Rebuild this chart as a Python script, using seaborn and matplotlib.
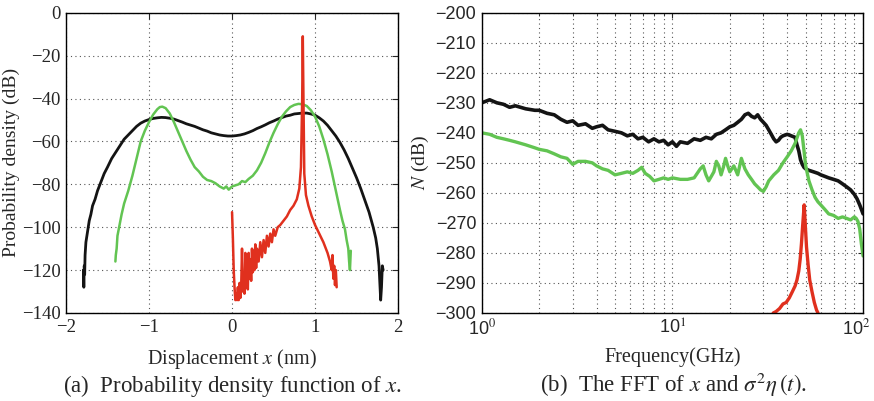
import numpy as np
import pandas as pd
import matplotlib
matplotlib.use('Agg')
import matplotlib.pyplot as plt
import matplotlib.transforms as mtransforms
import seaborn as sns
from matplotlib.ticker import FixedLocator, NullFormatter

# ---- left panel: probability density (dB) vs displacement (nm)
black_x = [-1.79, -1.785, -1.78, -1.775, -1.77, -1.76, -1.74, -1.72, -1.70, -1.68, -1.65, -1.62, -1.58,
           -1.54, -1.50, -1.45, -1.40, -1.35, -1.30, -1.25, -1.20, -1.15, -1.10, -1.05, -1.00, -0.95,
           -0.90, -0.85, -0.80, -0.75, -0.70, -0.65, -0.60, -0.55, -0.50, -0.45, -0.40, -0.35, -0.30,
           -0.25, -0.20, -0.15, -0.10, -0.05, 0.00, 0.05, 0.10, 0.15, 0.20, 0.25, 0.30, 0.35, 0.40,
           0.45, 0.50, 0.55, 0.60, 0.65, 0.70, 0.75, 0.80, 0.85, 0.90, 0.95, 1.00, 1.05, 1.10, 1.15,
           1.20, 1.25, 1.30, 1.35, 1.40, 1.45, 1.50, 1.55, 1.60, 1.65, 1.70, 1.73, 1.75, 1.77, 1.78,
           1.79, 1.80, 1.81, 1.82]
black_y = [-120, -128, -118, -122, -113, -107, -102, -97, -94, -90, -87, -83, -79, -75, -72, -68, -65,
           -62, -59, -57, -55, -53, -51.5, -50.5, -49.8, -49.3, -49, -48.8, -48.9, -49.2, -49.6, -50.3,
           -51, -51.8, -52.4, -53, -53.8, -54.6, -55.2, -56, -56.5, -57, -57.3, -57.5, -57.5, -57.3,
           -57, -56.5, -55.8, -55, -54, -53.2, -52.3, -51.3, -50.5, -49.6, -48.9, -48.2, -47.8, -47.2,
           -47, -46.8, -46.8, -47.2, -47.8, -49, -50.5, -52.5, -55, -57.5, -60.5, -64, -68, -72.5,
           -77, -82, -87.5, -93, -100, -105, -110, -118, -126, -134, -128, -118, -120]

green_x = [-1.405, -1.40, -1.39, -1.38, -1.36, -1.33, -1.30, -1.25, -1.20, -1.15, -1.10, -1.05, -1.00,
           -0.95, -0.90, -0.87, -0.84, -0.80, -0.75, -0.70, -0.65, -0.60, -0.55, -0.50, -0.45, -0.40,
           -0.35, -0.30, -0.25, -0.20, -0.15, -0.10, -0.07, -0.04, 0.00, 0.04, 0.08, 0.12, 0.16, 0.20,
           0.25, 0.30, 0.35, 0.40, 0.45, 0.50, 0.55, 0.60, 0.65, 0.70, 0.75, 0.80, 0.85, 0.90, 0.95,
           1.00, 1.05, 1.10, 1.15, 1.20, 1.25, 1.30, 1.33, 1.36, 1.38, 1.40, 1.41, 1.42, 1.43]
green_y = [-116, -113, -110, -104, -100, -94, -89, -83, -76, -68, -60, -55, -51, -47.5, -45, -44, -43.8,
           -44.5, -47, -51, -55.5, -60, -64.5, -68.5, -72, -74, -76.5, -78, -78.5, -79.5, -81, -82, -81,
           -82.5, -81, -80.5, -80, -78.5, -79, -77.5, -76, -73.5, -70, -65.5, -60.5, -56, -52, -48.5,
           -46, -44, -43, -42.5, -42.7, -43.5, -45.5, -48.5, -53, -59, -66, -74, -83, -92, -97, -101,
           -106, -110, -116, -120, -111]

red_x = [0.00, 0.01, 0.02, 0.03, 0.04, 0.05, 0.06, 0.07, 0.08, 0.09, 0.10, 0.11, 0.12, 0.13, 0.14,
         0.15, 0.16, 0.17, 0.18, 0.19, 0.20, 0.21, 0.22, 0.23, 0.24, 0.25, 0.26, 0.27, 0.28, 0.29,
         0.30, 0.32, 0.34, 0.36, 0.38, 0.40, 0.42, 0.44, 0.46, 0.48, 0.50, 0.52, 0.55, 0.58, 0.62,
         0.66, 0.70, 0.74, 0.78, 0.81, 0.83, 0.845, 0.852, 0.86, 0.87, 0.89, 0.92, 0.96, 1.00, 1.05,
         1.10, 1.15, 1.18, 1.20, 1.21, 1.22, 1.23, 1.24, 1.25, 1.26]
red_y = [-93, -105, -120, -128, -134, -131, -134, -128, -134, -126, -133, -128, -110, -130, -122, -131,
         -112, -128, -118, -129, -112, -124, -115, -125, -110, -121, -111, -120, -108, -119, -110, -116,
         -107, -114, -106, -112, -104, -109, -103, -107, -101, -104, -100, -99, -97, -95, -92, -90, -87,
         -82, -72, -40, -11, -40, -75, -85, -90, -95, -99, -103, -107, -112, -116, -120, -113, -124, -118,
         -127, -120, -128]

# ---- right panel: FFT (dB) vs frequency (GHz)
fb_x = [1.0, 1.05, 1.1, 1.2, 1.3, 1.4, 1.5, 1.7, 1.9, 2.0, 2.2, 2.4, 2.6, 2.8, 3.0, 3.2, 3.5, 3.8, 4.0,
        4.3, 4.6, 5.0, 5.4, 5.8, 6.2, 6.6, 7.0, 7.5, 8.0, 8.5, 9.0, 9.5, 10, 10.5, 11, 12, 13, 14, 15,
        16, 17, 18, 19, 20, 21, 22, 23, 24, 25, 26, 27, 28, 29, 30, 31, 32, 33, 34, 35, 36, 37, 38, 40,
        42, 44, 45, 46, 47, 48, 49, 50, 52, 55, 58, 60, 63, 66, 70, 74, 78, 82, 86, 90, 93, 96, 98, 100]
fb_y = [-230, -229.5, -229, -230, -230.5, -231.5, -231, -232, -232.5, -232.5, -233.5, -234, -235.5,
        -236.5, -236, -237.5, -237, -238.5, -238, -237.5, -239, -239.5, -240, -241, -240.5, -242,
        -241.5, -243, -242, -243, -242.5, -244, -243, -244.5, -243, -243.5, -242, -242.5, -241.5,
        -242, -240.5, -240, -239, -238, -237.5, -236.5, -235.5, -234, -233.5, -234.5, -235, -234,
        -235.5, -236.5, -237.5, -239, -240.5, -242, -243, -242.5, -241.5, -241, -240.5, -241, -241.5,
        -244, -246, -249, -250.5, -251.5, -252, -252.5, -253, -253.5, -254, -254.5, -255, -255.5,
        -256, -257, -258, -259, -260.5, -262, -264, -265.5, -267]

fg_x = [1.0, 1.1, 1.2, 1.3, 1.4, 1.5, 1.7, 1.9, 2.0, 2.2, 2.4, 2.6, 2.8, 3.0, 3.2, 3.5, 3.8, 4.0, 4.3,
        4.6, 5.0, 5.4, 5.8, 6.2, 6.6, 6.9, 7.2, 7.6, 8.0, 8.5, 9.0, 9.5, 10, 11, 12, 13, 14, 14.5, 15,
        15.5, 16, 16.5, 17, 17.5, 18, 18.5, 19, 19.5, 20, 21, 22, 23, 24, 25, 26, 27, 28, 29, 30, 31,
        32, 34, 36, 38, 40, 42, 44, 46, 47, 48, 49, 50, 52, 54, 56, 58, 60, 63, 66, 70, 74, 78, 82, 86,
        90, 92, 94, 96, 98, 100]
fg_y = [-240, -240.5, -241.5, -242, -242.5, -243, -244, -245, -245.5, -246, -247, -248, -248.5,
        -250.5, -249.5, -249.5, -250, -251, -252, -252.5, -254, -253.5, -253, -253.5, -252.5, -251.5,
        -253.5, -254.5, -256, -255.5, -255, -255.5, -255, -255.5, -255.5, -255, -252, -251, -254,
        -256, -254.5, -253, -249.5, -251, -254, -251.5, -248.5, -251, -253, -251, -254, -248.5, -252,
        -254, -255.5, -257, -258, -259, -259.5, -258, -256, -254, -252.5, -250, -248, -246, -243.5,
        -240, -239, -241, -246, -251, -256, -259, -261.5, -263, -264, -265.5, -267, -267.5, -268.5,
        -268, -268.5, -269, -268, -268.5, -269.5, -272, -277, -281]

fr_x = [33.8, 35, 36.5, 38, 39.5, 41, 42.5, 44, 45, 46, 46.8, 47.5, 48.2, 49.1, 49.8, 50.5, 51.5,
        52.5, 54, 55.5, 57, 58]
fr_y = [-300, -299.5, -298.5, -297, -296.5, -295, -293, -291, -289, -286, -282, -277, -271, -264,
        -271, -278, -284, -289, -293, -296.5, -299, -300]

xtick_labels_r = ['10$^{0}$', '10$^{1}$', '10$^{2}$']

c_black = '#141414'
c_green = '#62c452'
c_red = '#e0301e'

sns.set_style('white')
plt.rcParams['font.family'] = ['Liberation Serif', 'DejaVu Serif']
plt.rcParams['mathtext.fontset'] = 'stix'

fig = plt.figure(figsize=(8.74, 4.01), dpi=100)
ax1 = fig.add_axes([0.0755, 0.2195, 0.380, 0.7488])
ax2 = fig.add_axes([0.5512, 0.2195, 0.4363, 0.7488])


def draw(ax, xs, ys, color, lw):
    df = pd.DataFrame({'x': xs, 'y': ys})
    sns.lineplot(data=df, x='x', y='y', ax=ax, color=color, linewidth=lw,
                 sort=False, estimator=None)


draw(ax1, black_x, black_y, c_black, 2.0)
draw(ax1, green_x, green_y, c_green, 1.8)
draw(ax1, red_x, red_y, c_red, 1.8)

ax1.set_xlim(-2, 2)
ax1.set_ylim(-140, 0)
ax1.set_xticks([-2, -1, 0, 1, 2])
ax1.set_yticks(range(-140, 1, 20))
ax1.grid(True, linestyle=(0, (1, 3)), color='#555555', linewidth=0.8)
ax1.tick_params(direction='in', top=True, right=True, labelsize=13.5, length=4, pad=4)
ax1.set_xlabel('Displacement $x$ (nm)', fontsize=14.5, labelpad=8)
ax1.set_ylabel('Probability density (dB)', fontsize=14, labelpad=1)

ax2.set_xscale('log')
draw(ax2, fb_x, fb_y, c_black, 2.6)
draw(ax2, fg_x, fg_y, c_green, 2.4)
draw(ax2, fr_x, fr_y, c_red, 2.4)
ax2.set_xlim(1, 100)
ax2.set_ylim(-300, -200)
ax2.set_yticks(range(-300, -199, 10))
ax2.xaxis.set_major_locator(FixedLocator([1, 10, 100]))
ax2.set_xticklabels(xtick_labels_r)
minors = [m * d for d in (1, 10) for m in range(2, 10)]
ax2.xaxis.set_minor_locator(FixedLocator(minors))
ax2.xaxis.set_minor_formatter(NullFormatter())
ax2.grid(True, which='both', linestyle=(0, (1, 3)), color='#555555', linewidth=0.8)
ax2.tick_params(which='both', direction='in', top=True, right=True, labelsize=13, pad=4)
for lab in ax2.get_yticklabels() + ax2.get_xticklabels():
    lab.set_family(['Liberation Sans', 'DejaVu Sans'])
# keep the last tick label inside the figure
last = ax2.get_xticklabels()[-1]
last.set_transform(last.get_transform() +
                   mtransforms.ScaledTranslation(-5 / 72, 0, fig.dpi_scale_trans))
ax2.set_xlabel('Frequency(GHz)', fontsize=14.5, labelpad=6)
ax2.set_ylabel('$N$ (dB)', fontsize=14, labelpad=3)

for ax in (ax1, ax2):
    for s in ax.spines.values():
        s.set_color('black')
        s.set_linewidth(1.0)

fig.text(0.2665, 0.022, '(a)  Probability density function of $x$.', ha='center', fontsize=16.5)
fig.text(0.771, 0.022, r'(b)  The FFT of $x$ and $\sigma^2\eta\,(t)$.', ha='center', fontsize=16.5)

fig.savefig('out.png', dpi=100)
